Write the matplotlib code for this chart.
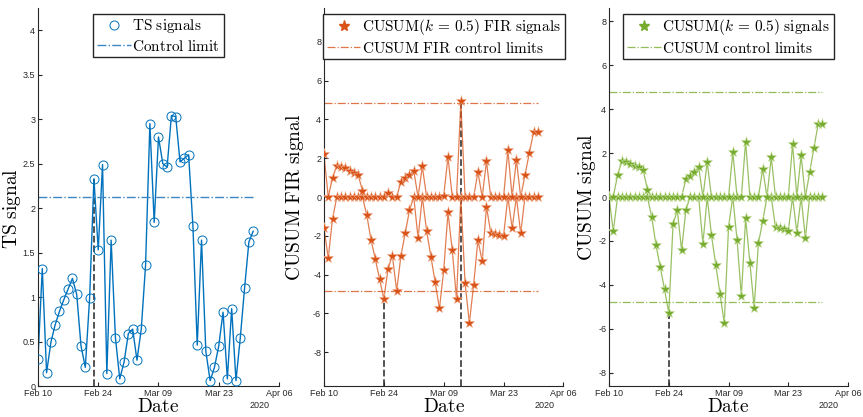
import numpy as np
import pandas as pd
import matplotlib
matplotlib.use('Agg')
import matplotlib.pyplot as plt
import matplotlib.dates as mdates
from matplotlib.lines import Line2D

plt.rcParams['font.family'] = ['Liberation Sans', 'DejaVu Sans']
plt.rcParams['mathtext.fontset'] = 'cm'
plt.rcParams['axes.unicode_minus'] = False

# ---- data (daily, Feb 10 - Mar 31 2020) ----
dates = pd.date_range('2020-02-10', periods=51, freq='D')

ts_signal = [0.30, 1.32, 0.15, 0.49, 0.69, 0.84, 0.97, 1.09, 1.21, 1.03,
             0.45, 0.21, 0.99, 2.33, 1.53, 2.49, 0.14, 1.64, 0.54, 0.08,
             0.27, 0.59, 0.64, 0.29, 0.64, 1.36, 2.95, 1.84, 2.80, 2.50,
             2.46, 3.04, 3.03, 2.52, 2.56, 2.60, 1.80, 0.46, 1.64, 0.39,
             0.06, 0.21, 0.45, 0.83, 0.08, 0.87, 0.06, 0.54, 1.10, 1.62,
             1.74]
ts_limit = 2.12
ts_alarms = [13]

fir_upper = [2.20, 0, 1.00, 1.60, 1.56, 1.48, 1.36, 1.26, 1.13, 0.33,
             0, 0, 0, 0, 0, 0.19, 0, 0, 0.80, 1.00,
             1.15, 1.35, 0, 1.58, 0, 0, 0, 0, 0.05, 2.08,
             0, 0, 4.93, 0, 0, 0, 1.29, 0, 1.84, 0,
             0, 0, 0, 2.42, 0, 1.91, 0, 1.12, 2.25, 3.33,
             3.33]
fir_lower = [-1.60, -3.14, -1.13, 0, 0, 0, 0, 0, 0, 0,
             -0.92, -2.21, -3.20, -4.23, -5.25, -3.69, -3.02, -4.85, -3.02, -1.87,
             -0.68, 0, -2.12, 0, -1.75, -3.07, -4.40, -5.75, -3.79, -0.79,
             -2.75, -5.27, 0, -4.45, -6.50, -4.52, -2.22, -3.32, -0.50, -1.85,
             -1.89, -1.94, -1.99, 0, -1.60, 0, -1.88, 0, 0, 0,
             0]
fir_limit = 4.86
fir_alarms = [14, 32]

cusum_upper = [0, 0, 1.00, 1.62, 1.59, 1.52, 1.42, 1.35, 1.24, 0.33,
               0, 0, 0, 0, 0, 0, 0, 0, 0.82, 0.97,
               1.15, 1.36, 0, 1.59, 0, 0, 0, 0, 0, 2.03,
               0, 0, 2.52, 0, 0, 0, 1.29, 0, 1.82, 0,
               0, 0, 0, 2.41, 0, 1.89, 0, 1.12, 2.23, 3.33,
               3.33]
cusum_lower = [0, -1.56, 0, 0, 0, 0, 0, 0, 0, 0,
               -0.91, -2.18, -3.19, -4.20, -5.28, -1.24, -0.60, -2.42, -0.60, 0,
               0, 0, -2.12, 0, -1.74, -3.08, -4.40, -5.75, -1.35, 0,
               -1.97, -4.51, -0.96, -2.99, -5.04, -2.10, -1.10, 0, 0, -1.38,
               -1.42, -1.47, -1.53, 0, -1.62, 0, -1.88, 0, 0, 0,
               0]
cusum_limit = 4.78
cusum_alarms = [14]

blue = '#0072BD'
orange = '#D95319'
green = '#77AC30'
axcol = '#262626'


def style_axes(ax, ylim, yticks):
    ax.set_xlim(pd.Timestamp('2020-02-10'), pd.Timestamp('2020-04-06'))
    ax.set_ylim(*ylim)
    ax.set_yticks(yticks)
    ax.set_yticklabels(['%g' % t for t in yticks])
    ticks = pd.date_range('2020-02-10', '2020-04-06', freq='14D')
    ax.set_xticks(ticks)
    ax.xaxis.set_major_formatter(mdates.DateFormatter('%b %d'))
    for s in ['top', 'right']:
        ax.spines[s].set_visible(False)
    for s in ['left', 'bottom']:
        ax.spines[s].set_color(axcol)
        ax.spines[s].set_linewidth(0.8)
    ax.tick_params(direction='in', length=3, width=0.8, colors=axcol,
                   labelsize=6.5, pad=2)
    ax.set_xlabel(r'$\mathrm{Date}$', fontsize=14, labelpad=0)
    ax.annotate('2020', xy=(0.92, 0), xycoords='axes fraction',
                xytext=(0, -11), textcoords='offset points',
                ha='center', va='top', fontsize=6.5, color=axcol)


def alarm_lines(ax, idx, vals, ybottom):
    for i in idx:
        ax.plot([dates[i], dates[i]], [ybottom, vals[i]], '--',
                color='#444444', lw=1.3, zorder=1)


fig = plt.figure(figsize=(8.63, 4.17), dpi=100)

# ---- TS panel ----
ax1 = fig.add_axes([0.044, 0.0743, 0.2793, 0.9065])
alarm_lines(ax1, ts_alarms, ts_signal, 0)
ax1.plot(dates, ts_signal, '-', color=blue, lw=1.0, zorder=2)
ax1.plot(dates, ts_signal, 'o', mfc='none', mec=blue, ms=6.5, mew=0.7, zorder=3)
ax1.plot([dates[0], dates[-1]], [ts_limit, ts_limit], '-.', color='#3d87c4', lw=1.0)
style_axes(ax1, (0, 4.25), np.arange(0, 4.01, 0.5))
ax1.set_ylabel(r'$\mathrm{TS\ signal}$', fontsize=14)
ax1.yaxis.set_label_coords(-0.064, 0.47)
h1 = [Line2D([], [], ls='none', marker='o', mfc='none', mec=blue, ms=6.5, mew=0.7),
      Line2D([], [], ls='-.', color='#3d87c4', lw=1.0)]
ax1.legend(h1, [r'$\mathrm{TS\ signals}$', r'$\mathrm{Control\ limit}$'],
           loc='upper center', bbox_to_anchor=(0.5, 0.985), fontsize=11,
           fancybox=False, edgecolor=axcol, framealpha=1, handlelength=2.2,
           handletextpad=0.1, borderpad=0.25, labelspacing=0.2, borderaxespad=0)


def cusum_panel(ax, upper, lower, limit, alarms, color, ylim, ylabel, lab1, lab2, labx):
    vals = [upper[i] if upper[i] > 0 else lower[i] for i in range(len(upper))]
    alarm_lines(ax, alarms, vals, ylim[0])
    for series in (lower, upper):
        ax.plot(dates, series, '-', color=color, lw=0.9, alpha=0.75, zorder=2)
        ax.plot(dates, series, '*', color=color, ms=8, mec='#f0b090' if color == orange else '#c8e0a0',
                mew=0.4, zorder=3)
    ax.plot([dates[0], dates[-1]], [limit, limit], '-.', color=color, lw=0.9, alpha=0.8)
    ax.plot([dates[0], dates[-1]], [-limit, -limit], '-.', color=color, lw=0.9, alpha=0.8)
    style_axes(ax, ylim, np.arange(-8, 8.1, 2))
    ax.set_ylabel(ylabel, fontsize=14)
    ax.yaxis.set_label_coords(labx, 0.5)
    hh = [Line2D([], [], ls='none', marker='*', color=color, ms=8),
          Line2D([], [], ls='-.', color=color, lw=0.9, alpha=0.8)]
    ax.legend(hh, [lab1, lab2], loc='upper center', bbox_to_anchor=(0.5, 0.985),
              fontsize=11, fancybox=False, edgecolor=axcol, framealpha=1,
              handlelength=2.2, handletextpad=0.1, borderpad=0.25,
              labelspacing=0.2, borderaxespad=0)


ax2 = fig.add_axes([0.3754, 0.0743, 0.2775, 0.9065])
cusum_panel(ax2, fir_upper, fir_lower, fir_limit, fir_alarms, orange, (-9.75, 9.75),
            r'$\mathrm{CUSUM\ FIR\ signal}$',
            r'$\mathrm{CUSUM}(k\,=\,0.5)\ \mathrm{FIR\ signals}$',
            r'$\mathrm{CUSUM\ FIR\ control\ limits}$', -0.077)

ax3 = fig.add_axes([0.7057, 0.0743, 0.2770, 0.9065])
cusum_panel(ax3, cusum_upper, cusum_lower, cusum_limit, cusum_alarms, green, (-8.6, 8.6),
            r'$\mathrm{CUSUM\ signal}$',
            r'$\mathrm{CUSUM}(k\,=\,0.5)\ \mathrm{signals}$',
            r'$\mathrm{CUSUM\ control\ limits}$', -0.048)

fig.savefig('out.png', dpi=100)
